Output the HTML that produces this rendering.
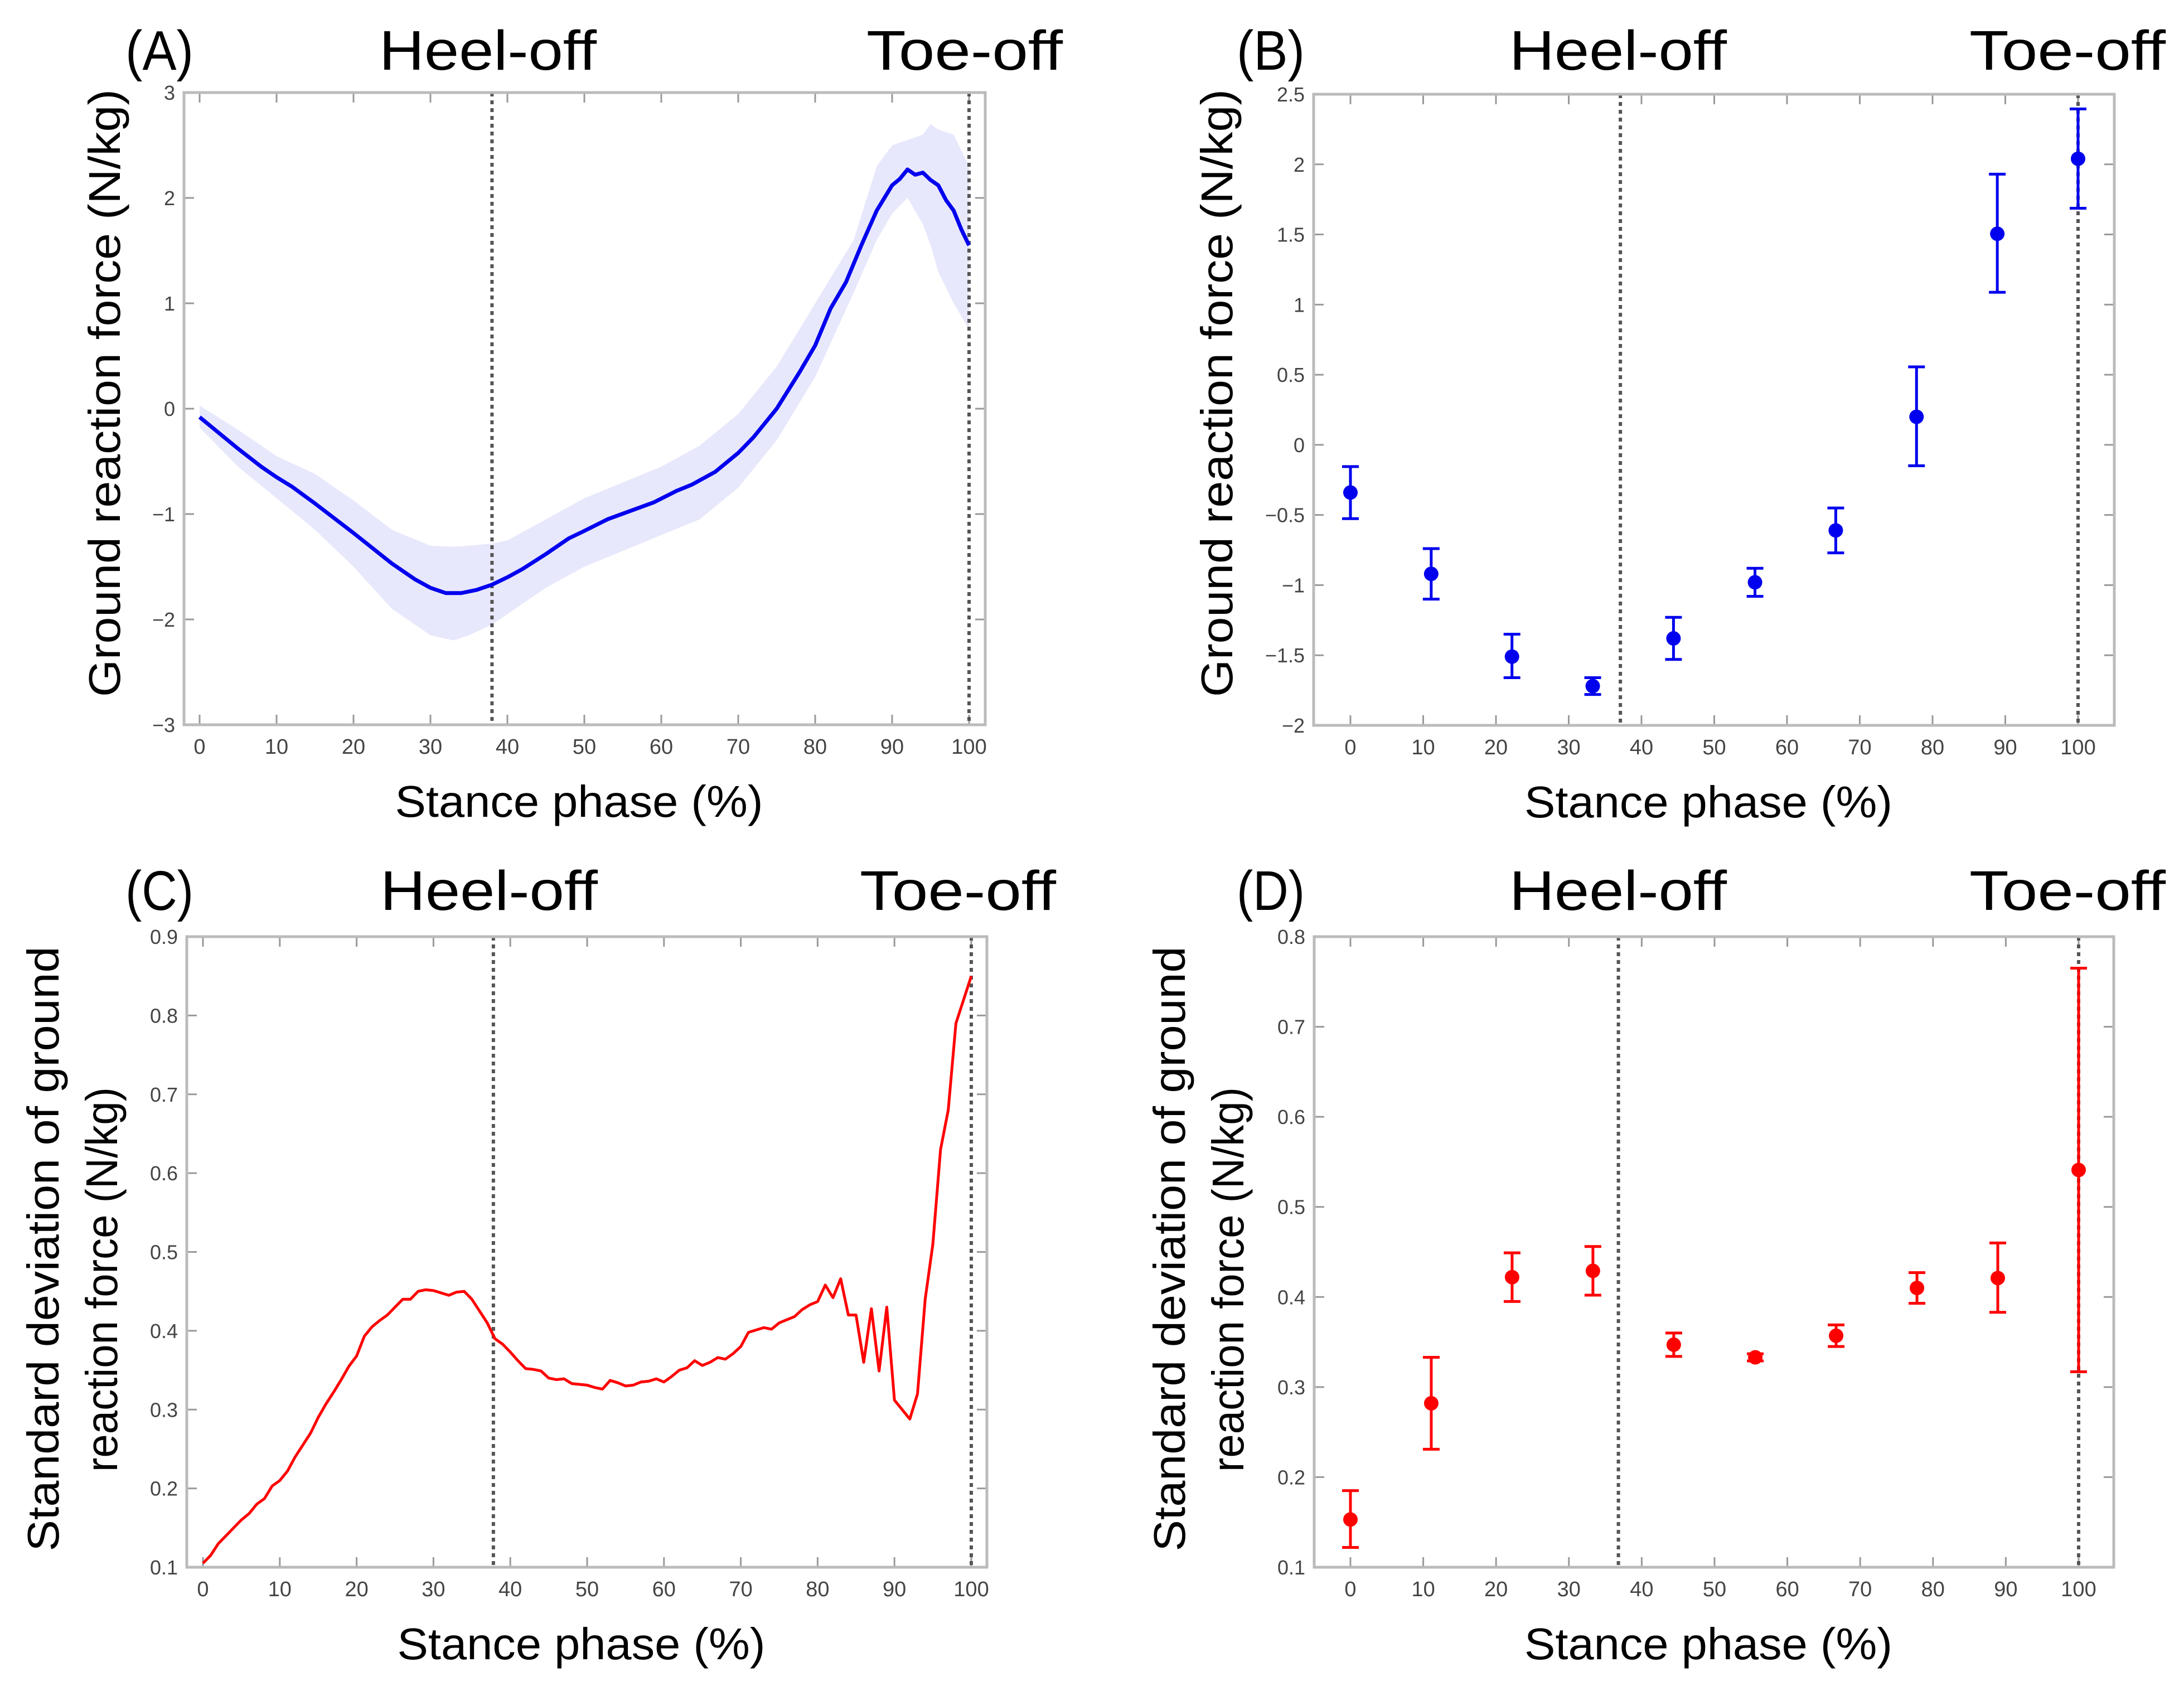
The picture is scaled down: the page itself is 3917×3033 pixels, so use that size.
<!DOCTYPE html>
<html><head><meta charset="utf-8"><style>
html,body{margin:0;padding:0;background:#fff}
svg{display:block}
text{font-family:"Liberation Sans",sans-serif}
</style></head><body>
<svg id="fig" width="3917" height="3033" viewBox="0 0 3917 3033" xmlns="http://www.w3.org/2000/svg"></svg>
<script>
// ---- Data ----
const pctTicks = [0,10,20,30,40,50,60,70,80,90,100];
const aTicksY = [-3,-2,-1,0,1,2,3];
const aMeanX = [0,2,5,8,10,12,15,20,25,28,30,32,34,36,38,40,42,45,48,50,53,56,59,62,64,67,70,72,75,78,80,82,84,86,88,90,91,92,93,94,95,96,97,98,99,100];
const aMeanY = [-0.08,-0.2,-0.38,-0.55,-0.65,-0.74,-0.9,-1.18,-1.47,-1.62,-1.7,-1.75,-1.75,-1.72,-1.67,-1.6,-1.52,-1.38,-1.23,-1.16,-1.05,-0.97,-0.89,-0.78,-0.72,-0.6,-0.42,-0.27,0.0,0.35,0.6,0.95,1.2,1.55,1.88,2.12,2.18,2.27,2.22,2.24,2.17,2.12,1.98,1.88,1.7,1.55];
const aBandX = [0,5,10,15,20,25,30,33,35,38,40,45,50,55,60,65,70,75,80,85,88,90,92,94,95,96,98,100];
const aUpper = [0.03,-0.2,-0.45,-0.62,-0.87,-1.15,-1.3,-1.31,-1.3,-1.28,-1.25,-1.05,-0.85,-0.7,-0.55,-0.35,-0.05,0.4,1.0,1.6,2.3,2.5,2.55,2.6,2.7,2.65,2.6,2.3];
const aLower = [-0.18,-0.55,-0.85,-1.15,-1.5,-1.9,-2.15,-2.2,-2.15,-2.05,-1.95,-1.7,-1.5,-1.35,-1.2,-1.05,-0.75,-0.3,0.3,1.1,1.6,1.85,2.0,1.75,1.55,1.3,1.0,0.75];
const bTicksY = [-2,-1.5,-1,-0.5,0,0.5,1,1.5,2,2.5];
const bTickLabels = ["\u22122","\u22121.5","\u22121","\u22120.5","0","0.5","1","1.5","2","2.5"];
const binX = [0,11.1,22.2,33.3,44.4,55.6,66.7,77.8,88.9,100];
const bMean = [-0.34,-0.92,-1.51,-1.72,-1.38,-0.98,-0.61,0.20,1.505,2.04];
const bHi = [-0.155,-0.74,-1.35,-1.66,-1.23,-0.88,-0.45,0.556,1.93,2.395];
const bLo = [-0.526,-1.10,-1.66,-1.78,-1.53,-1.08,-0.77,-0.149,1.088,1.687];
const cTicksY = [0.1,0.2,0.3,0.4,0.5,0.6,0.7,0.8,0.9];
const cSD = [0.105,0.115,0.13,0.14,0.15,0.16,0.168,0.18,0.187,0.203,0.21,0.222,0.24,0.255,0.27,0.29,0.307,0.322,0.338,0.355,0.368,0.393,0.405,0.413,0.42,0.43,0.44,0.44,0.45,0.452,0.451,0.448,0.445,0.449,0.45,0.44,0.425,0.41,0.39,0.383,0.373,0.362,0.352,0.351,0.349,0.34,0.338,0.339,0.333,0.332,0.331,0.328,0.326,0.337,0.334,0.33,0.331,0.335,0.336,0.339,0.335,0.342,0.35,0.353,0.362,0.356,0.36,0.366,0.364,0.371,0.38,0.398,0.401,0.404,0.402,0.41,0.414,0.418,0.427,0.433,0.437,0.458,0.442,0.466,0.42,0.42,0.36,0.428,0.349,0.43,0.312,0.30,0.288,0.32,0.44,0.51,0.63,0.68,0.79,0.82,0.85];
const dTicksY = [0.1,0.2,0.3,0.4,0.5,0.6,0.7,0.8];
const dMean = [0.153,0.282,0.422,0.429,0.347,0.333,0.357,0.410,0.421,0.541];
const dHi = [0.185,0.333,0.449,0.456,0.360,0.337,0.369,0.427,0.460,0.765];
const dLo = [0.122,0.231,0.395,0.402,0.334,0.329,0.345,0.393,0.383,0.317];

const NS="http://www.w3.org/2000/svg";
const fig=document.getElementById('fig');
function mk(tag,attrs,parent){const e=document.createElementNS(NS,tag);for(const k in attrs)e.setAttribute(k,attrs[k]);(parent||fig).appendChild(e);return e;}

function panel(p){
  const g=mk('g',{});
  
  
  const sx=v=>p.x0+(v/100)*(p.x100-p.x0);
  const sy=v=>p.bottom-(v-p.ymin)/(p.ymax-p.ymin)*(p.bottom-p.top);
  pctTicks.forEach(t=>{
    const x=sx(t);
    const tk=mk('path',{d:`M${x},${p.bottom}v-18M${x},${p.top}v18`,stroke:'#999','stroke-width':3},g);
    
    
    const tl=mk('text',{x:x,y:p.bottom+52,'font-size':38,fill:'#444','text-anchor':'middle'},g);
    tl.textContent=t;
    
    
  });
  p.yticks.forEach((t,i)=>{
    const y=sy(t);
    const tk=mk('path',{d:`M${p.left},${y}h18M${p.right},${y}h-18`,stroke:'#999','stroke-width':3},g);
    
    
    const tl=mk('text',{x:p.left-16,y:y+13,'font-size':36,fill:'#444','text-anchor':'end'},g);
    tl.textContent=p.ylabels?p.ylabels[i]:String(t).replace('-','\u2212');
    
    
  });
  return {g,sx,sy};
}
function frame(p,g){
  const r=mk('rect',{x:p.left,y:p.top,width:p.right-p.left,height:p.bottom-p.top,fill:'none',stroke:'#bbb','stroke-width':5},g);
  
  
}
function vline(p,g,sx,v,name){
  const l=mk('line',{x1:sx(v),x2:sx(v),y1:p.top,y2:p.bottom,stroke:'#555','stroke-width':6,'stroke-dasharray':'7 7'},g);
  
  
}
function titles(p,letter,ty){
  const t1=mk('text',{x:p.lx,y:ty,'font-size':100,fill:'#000',textLength:122,lengthAdjust:'spacingAndGlyphs'});
  t1.textContent=letter;
  
  
  const t2=mk('text',{x:p.hx,y:ty,'font-size':100,fill:'#000',textLength:390,lengthAdjust:'spacingAndGlyphs'});
  t2.textContent='Heel-off';
  
  
  const t3=mk('text',{x:p.tx,y:ty,'font-size':100,fill:'#000',textLength:352,lengthAdjust:'spacingAndGlyphs'});
  t3.textContent='Toe-off';
  
  
  const xl=mk('text',{x:(p.left+p.right)/2-10,y:p.bottom+165,'font-size':80,fill:'#000','text-anchor':'middle',textLength:660,lengthAdjust:'spacingAndGlyphs'});
  xl.textContent='Stance phase (%)';
  
  
}
function ytitle(lines,xs,cys,lens){
  lines.forEach((s,i)=>{
    const t=mk('text',{x:0,y:0,'font-size':80,fill:'#000','text-anchor':'middle',transform:`translate(${xs[i]},${cys[i]}) rotate(-90)`,textLength:lens[i],lengthAdjust:'spacingAndGlyphs'});
    t.textContent=s;
    
    
  });
}
function errbars(g,sx,sy,mean,hi,lo,color){
  mean.forEach((m,i)=>{
    const x=sx(binX[i]);
    const b=mk('path',{d:`M${x},${sy(hi[i])}V${sy(lo[i])}M${x-15},${sy(hi[i])}h30M${x-15},${sy(lo[i])}h30`,stroke:color,'stroke-width':5,fill:'none'},g);
    
    
    const c=mk('circle',{cx:x,cy:sy(m),r:13,fill:color},g);
    
    
  });
}

const pA={name:'panel-a',left:330,right:1767,top:166,bottom:1300,x0:358,x100:1738,ymin:-3,ymax:3,yticks:aTicksY,lx:225,hx:680,tx:1554};
{
  const {g,sx,sy}=panel(pA);
  let d='M'+aBandX.map((x,i)=>sx(x)+','+sy(aUpper[i])).join('L');
  for(let i=aBandX.length-1;i>=0;i--) d+='L'+sx(aBandX[i])+','+sy(aLower[i]);
  const band=mk('path',{d:d+'Z',fill:'#e8e8fc',stroke:'none'},g);
  
  
  vline(pA,g,sx,38,'heel-off-line');
  vline(pA,g,sx,100,'toe-off-line');
  const ln=mk('path',{d:'M'+aMeanX.map((x,i)=>sx(x)+','+sy(aMeanY[i])).join('L'),fill:'none',stroke:'#0000ee','stroke-width':7,'stroke-linejoin':'round'},g);
  
  
  frame(pA,g);
  titles(pA,'(A)',125);
  ytitle(['Ground reaction force (N/kg)'],[215],[705],[1090]);
}
const pB={name:'panel-b',left:2356,right:3792,top:169,bottom:1301,x0:2422,x100:3727,ymin:-2,ymax:2.5,yticks:bTicksY,ylabels:bTickLabels,lx:2218,hx:2707,tx:3532};
{
  const {g,sx,sy}=panel(pB);
  vline(pB,g,sx,37.1,'heel-off-line');
  vline(pB,g,sx,100,'toe-off-line');
  errbars(g,sx,sy,bMean,bHi,bLo,'#0000ee');
  frame(pB,g);
  titles(pB,'(B)',125);
  ytitle(['Ground reaction force (N/kg)'],[2210],[705],[1090]);
}
const pC={name:'panel-c',left:335,right:1770,top:1680,bottom:2811,x0:364,x100:1742,ymin:0.1,ymax:0.9,yticks:cTicksY,lx:225,hx:682,tx:1542};
{
  const {g,sx,sy}=panel(pC);
  vline(pC,g,sx,37.8,'heel-off-line');
  vline(pC,g,sx,100,'toe-off-line');
  const ln=mk('path',{d:'M'+cSD.map((v,i)=>sx(i)+','+sy(v)).join('L'),fill:'none',stroke:'#ff0000','stroke-width':5,'stroke-linejoin':'round'},g);
  
  
  frame(pC,g);
  titles(pC,'(C)',1632);
  ytitle(['Standard deviation of ground','reaction force (N/kg)'],[105,210],[2240,2295],[1085,690]);
}
const pD={name:'panel-d',left:2357,right:3791,top:1680,bottom:2811,x0:2422,x100:3728,ymin:0.1,ymax:0.8,yticks:dTicksY,lx:2218,hx:2707,tx:3532};
{
  const {g,sx,sy}=panel(pD);
  vline(pD,g,sx,36.8,'heel-off-line');
  vline(pD,g,sx,100,'toe-off-line');
  errbars(g,sx,sy,dMean,dHi,dLo,'#ff0000');
  frame(pD,g);
  titles(pD,'(D)',1632);
  ytitle(['Standard deviation of ground','reaction force (N/kg)'],[2125,2230],[2240,2295],[1085,690]);
}
</script>
</body></html>
